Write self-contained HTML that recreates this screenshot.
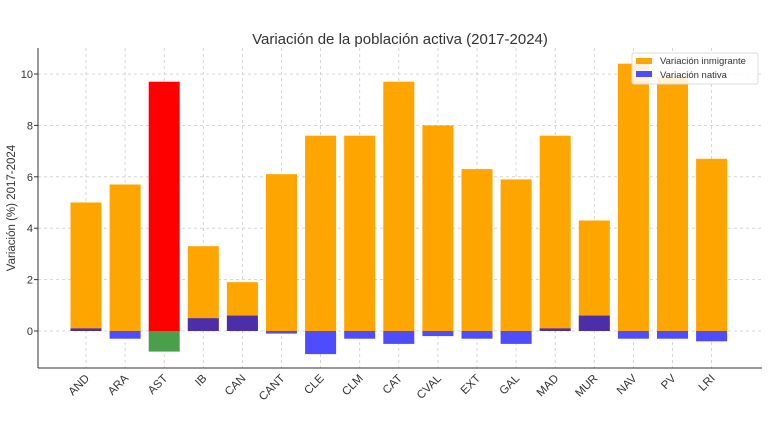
<!DOCTYPE html>
<html><head><meta charset="utf-8"><style>body{margin:0;background:#fff}svg{display:block;font-family:"Liberation Sans","DejaVu Sans",sans-serif}</style></head>
<body>
<svg width="768" height="432" viewBox="0 0 768 432" xmlns="http://www.w3.org/2000/svg">
<rect width="768" height="432" fill="#fff"/>
<text x="400" y="44" font-size="15" text-anchor="middle" fill="#333">Variación de la población activa (2017-2024)</text>
<g stroke="#ccc" stroke-width="0.8" stroke-dasharray="3,3">
<line x1="38" x2="762" y1="331" y2="331"/><line x1="38" x2="762" y1="279.6" y2="279.6"/><line x1="38" x2="762" y1="228.2" y2="228.2"/><line x1="38" x2="762" y1="176.8" y2="176.8"/><line x1="38" x2="762" y1="125.4" y2="125.4"/><line x1="38" x2="762" y1="74" y2="74"/>
<line x1="86" x2="86" y1="48" y2="368"/><line x1="125.1" x2="125.1" y1="48" y2="368"/><line x1="164.2" x2="164.2" y1="48" y2="368"/><line x1="203.3" x2="203.3" y1="48" y2="368"/><line x1="242.4" x2="242.4" y1="48" y2="368"/><line x1="281.5" x2="281.5" y1="48" y2="368"/><line x1="320.6" x2="320.6" y1="48" y2="368"/><line x1="359.7" x2="359.7" y1="48" y2="368"/><line x1="398.8" x2="398.8" y1="48" y2="368"/><line x1="437.9" x2="437.9" y1="48" y2="368"/><line x1="477" x2="477" y1="48" y2="368"/><line x1="516.1" x2="516.1" y1="48" y2="368"/><line x1="555.2" x2="555.2" y1="48" y2="368"/><line x1="594.3" x2="594.3" y1="48" y2="368"/><line x1="633.4" x2="633.4" y1="48" y2="368"/><line x1="672.5" x2="672.5" y1="48" y2="368"/><line x1="711.6" x2="711.6" y1="48" y2="368"/>
</g>
<g fill="#ffa500">
<rect x="70.5" y="202.5" width="31" height="128.5"/>
<rect x="109.6" y="184.5" width="31" height="146.5"/>
<rect x="148.7" y="81.7" width="31" height="249.3" fill="#ff0000"/>
<rect x="187.8" y="246.2" width="31" height="84.8"/>
<rect x="226.9" y="282.2" width="31" height="48.8"/>
<rect x="266" y="174.2" width="31" height="156.8"/>
<rect x="305.1" y="135.7" width="31" height="195.3"/>
<rect x="344.2" y="135.7" width="31" height="195.3"/>
<rect x="383.3" y="81.7" width="31" height="249.3"/>
<rect x="422.4" y="125.4" width="31" height="205.6"/>
<rect x="461.5" y="169.1" width="31" height="161.9"/>
<rect x="500.6" y="179.4" width="31" height="151.6"/>
<rect x="539.7" y="135.7" width="31" height="195.3"/>
<rect x="578.8" y="220.5" width="31" height="110.5"/>
<rect x="617.9" y="63.7" width="31" height="267.3"/>
<rect x="657" y="76.6" width="31" height="254.4"/>
<rect x="696.1" y="158.8" width="31" height="172.2"/>
</g>
<g fill="#4d4dff">
<rect x="70.5" y="328.4" width="31" height="2.6" fill="#4b2ea8"/>
<rect x="109.6" y="331" width="31" height="7.7"/>
<rect x="148.7" y="331" width="31" height="20.6" fill="#4aa04a"/>
<rect x="187.8" y="318.2" width="31" height="12.8" fill="#4b2ea8"/>
<rect x="226.9" y="315.6" width="31" height="15.4" fill="#4b2ea8"/>
<rect x="266" y="331" width="31" height="2.6"/>
<rect x="305.1" y="331" width="31" height="23.1"/>
<rect x="344.2" y="331" width="31" height="7.7"/>
<rect x="383.3" y="331" width="31" height="12.9"/>
<rect x="422.4" y="331" width="31" height="5.1"/>
<rect x="461.5" y="331" width="31" height="7.7"/>
<rect x="500.6" y="331" width="31" height="12.9"/>
<rect x="539.7" y="328.4" width="31" height="2.6" fill="#4b2ea8"/>
<rect x="578.8" y="315.6" width="31" height="15.4" fill="#4b2ea8"/>
<rect x="617.9" y="331" width="31" height="7.7"/>
<rect x="657" y="331" width="31" height="7.7"/>
<rect x="696.1" y="331" width="31" height="10.3"/>
</g>
<g stroke="#333" stroke-width="1">
<line x1="38" x2="38" y1="48" y2="368"/><line x1="38" x2="762" y1="368" y2="368"/>
<line x1="34" x2="38" y1="331" y2="331"/><line x1="34" x2="38" y1="279.6" y2="279.6"/><line x1="34" x2="38" y1="228.2" y2="228.2"/><line x1="34" x2="38" y1="176.8" y2="176.8"/><line x1="34" x2="38" y1="125.4" y2="125.4"/><line x1="34" x2="38" y1="74" y2="74"/>
</g>
<g font-size="11" text-anchor="end" fill="#333">
<text x="33" y="335">0</text><text x="33" y="283.6">2</text><text x="33" y="232.2">4</text><text x="33" y="180.8">6</text><text x="33" y="129.4">8</text><text x="33" y="78">10</text>
</g>
<g font-size="11.5" text-anchor="end" fill="#333">
<text transform="translate(90,379) rotate(-45)">AND</text>
<text transform="translate(129.1,379) rotate(-45)">ARA</text>
<text transform="translate(168.2,379) rotate(-45)">AST</text>
<text transform="translate(207.3,379) rotate(-45)">IB</text>
<text transform="translate(246.4,379) rotate(-45)">CAN</text>
<text transform="translate(285.5,379) rotate(-45)">CANT</text>
<text transform="translate(324.6,379) rotate(-45)">CLE</text>
<text transform="translate(363.7,379) rotate(-45)">CLM</text>
<text transform="translate(402.8,379) rotate(-45)">CAT</text>
<text transform="translate(441.9,379) rotate(-45)">CVAL</text>
<text transform="translate(481,379) rotate(-45)">EXT</text>
<text transform="translate(520.1,379) rotate(-45)">GAL</text>
<text transform="translate(559.2,379) rotate(-45)">MAD</text>
<text transform="translate(598.3,379) rotate(-45)">MUR</text>
<text transform="translate(637.4,379) rotate(-45)">NAV</text>
<text transform="translate(676.5,379) rotate(-45)">PV</text>
<text transform="translate(715.6,379) rotate(-45)">LRI</text>
</g>
<text transform="translate(15,208) rotate(-90)" font-size="11.5" text-anchor="middle" fill="#333">Variación (%) 2017-2024</text>
<rect x="632" y="53" width="126" height="31" fill="#fff" fill-opacity="0.85" stroke="#ddd" rx="2"/>
<rect x="636" y="58" width="16" height="6" fill="#ffa500"/><text x="660" y="64" font-size="9.5" fill="#333">Variación inmigrante</text>
<rect x="636" y="71" width="16" height="6" fill="#4d4dff"/><text x="660" y="78" font-size="9.5" fill="#333">Variación nativa</text>
</svg>
</body></html>
